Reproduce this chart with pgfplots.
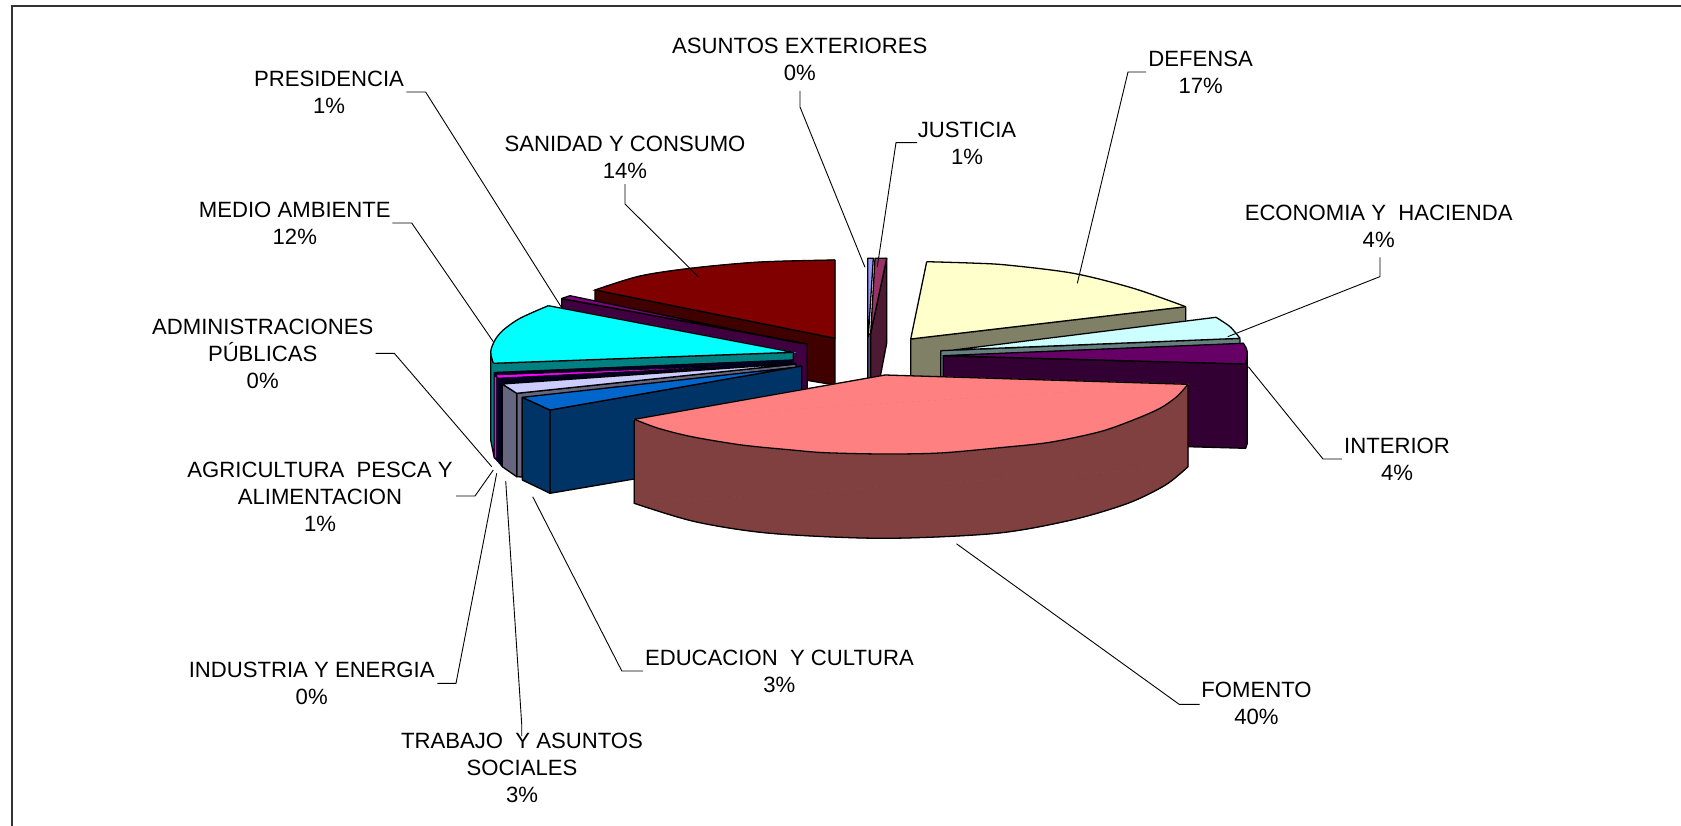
\documentclass[border=0pt]{standalone}
\usepackage{fontspec}
\setmainfont{Liberation Sans}
\usepackage{pgfplots}
\pgfplotsset{compat=1.18}
\definecolor{sanT}{HTML}{800000}\definecolor{sanS}{HTML}{400000}
\definecolor{preT}{HTML}{800080}\definecolor{preS}{HTML}{400040}
\definecolor{medT}{HTML}{00FFFF}\definecolor{medS}{HTML}{008080}
\definecolor{adm}{HTML}{FF00FF}\definecolor{agr}{HTML}{000020}
\definecolor{indT}{HTML}{CCCCFF}\definecolor{indS}{HTML}{666680}
\definecolor{eduT}{HTML}{0066CC}\definecolor{eduS}{HTML}{003366}
\definecolor{fomT}{HTML}{FF8080}\definecolor{fomS}{HTML}{804040}
\definecolor{defT}{HTML}{FFFFCC}\definecolor{defS}{HTML}{808066}
\definecolor{ecoT}{HTML}{CCFFFF}\definecolor{ecoS}{HTML}{668080}
\definecolor{intT}{HTML}{660066}\definecolor{intS}{HTML}{330033}
\definecolor{asuT}{HTML}{9999FF}\definecolor{asuS}{HTML}{4D4D80}
\definecolor{jusT}{HTML}{993366}\definecolor{jusS}{HTML}{4D1A33}
\tikzset{
  slice/.style={draw=black, line width=1.3pt, line join=round, mark=none},
  leader/.style={draw=black, line width=0.9pt, mark=none},
  lab/.style={align=center, font=\fontsize{22.2}{27.1}\selectfont, text=black, inner sep=0pt},
}
% a face with one curved edge: colour, straight polygon, curved edge, straight edges
\newcommand{\face}[4]{%
  \addplot[draw=#1, line width=0.7pt, fill=#1, mark=none] coordinates {#2} -- cycle;
  \addplot[draw=#1, line width=0.7pt, fill=#1, smooth, mark=none] coordinates {#3} -- cycle;
  \addplot[slice, smooth] coordinates {#3};
  \addplot[slice] coordinates {#4};
}
\begin{document}
\begin{tikzpicture}
\path[use as bounding box] (0,0) rectangle (1681bp,826bp);
\begin{axis}[
  at={(0,0)}, anchor=south west,
  width=1681bp, height=826bp, scale only axis,
  xmin=0, xmax=1681, ymin=0, ymax=826, y dir=reverse,
  hide axis, clip=true,
]
% frame (left and top only)
\addplot[draw=black!80, line width=1.5pt, mark=none] coordinates {(12,826) (12,6) (1681,6)};

% Asuntos exteriores
\addplot[slice, fill=asuS] coordinates {(867.7,336) (870.7,333) (870.7,380) (867.7,380)} -- cycle;
\addplot[slice, fill=asuT] coordinates {(867.7,258.3) (873.3,258.3) (868.3,336.7) (867.7,336.7)} -- cycle;
% Justicia
\addplot[slice, fill=jusS] coordinates {(886.7,258.3) (870.7,333) (870.7,380) (880,378) (886.7,343)} -- cycle;
\addplot[slice, fill=jusT] coordinates {(875,258.3) (886.7,258.3) (870.7,333)} -- cycle;
% Sanidad
\addplot[slice, fill=sanS] coordinates {(595,290) (835,338.3) (835,385) (595,345)} -- cycle;
\face{sanT}{(595,290) (835,260) (835,338.3)}{(595,290) (640,276) (693,268) (760,262) (835,260)}{(835,260) (835,338.3) (595,290)}
% Presidencia
\addplot[slice, fill=preS] coordinates {(561.7,298.8) (807.3,344) (807.3,392) (561.7,345)} -- cycle;
\addplot[slice, fill=preT] coordinates {(561.7,298.5) (570,295.7) (793,342) (807.3,344)} -- cycle;
% Defensa
\addplot[slice, fill=defS] coordinates {(910.7,339) (1185.7,306.7) (1185.7,322) (1185.7,380) (910.7,380)} -- cycle;
\face{defT}{(910.7,339) (926.7,261.7) (1185.7,306.7)}{(926.7,261.7) (970,263) (1006.7,265) (1073.3,273.3) (1133.3,288.3) (1185.7,306.7)}{(1185.7,306.7) (910.7,339) (926.7,261.7)}
% Economia
\addplot[slice, fill=ecoS] coordinates {(940.7,350.7) (1240,338.3) (1240,343.3) (1240,380) (940.7,380)} -- cycle;
\face{ecoT}{(953.3,350) (1216,317.3) (1240,338.3)}{(1216,317.3) (1230,326.7) (1240,338.3)}{(1240,338.3) (953.3,350) (1216,317.3)}
% Interior
\addplot[slice, fill=intS] coordinates {(943.3,356) (1245.7,364) (1247.3,355) (1247.3,443.3) (1245.7,448.3) (1188,446.7) (943.3,420)} -- cycle;
\face{intT}{(943.3,355.7) (1243.3,343.3) (1245.7,364)}{(1243.3,343.3) (1246.5,349) (1247.3,355) (1245.7,364)}{(1245.7,364) (943.3,355.7) (1243.3,343.3)}
% Medio ambiente
\addplot[slice, fill=medS] coordinates {(490.7,351.7) (493.3,363.3) (793.3,352.3) (793.3,360) (494.3,372.5) (494.3,458) (490.7,440)} -- cycle;
\face{medT}{(793.3,352.3) (548.3,305.7) (493.3,363.3)}{(548.3,305.7) (520,318.3) (503.3,330) (495,340) (490.7,351.7) (493.3,363.3)}{(493.3,363.3) (793.3,352.3) (548.3,305.7)}
% Agricultura (dark) and Administraciones (magenta)
\addplot[draw=agr, fill=agr, mark=none] coordinates {(494.3,372.5) (793.3,360) (795,366) (502.3,384) (502.3,467) (494.3,458)} -- cycle;
\addplot[draw=black, line width=0.6pt, fill=adm, mark=none] coordinates {(496,375) (498,378) (700,368) (720,366.5)} -- cycle;
\addplot[draw=black, line width=0.6pt, fill=adm, mark=none] coordinates {(494.3,375) (496.7,378) (496.7,459) (494.3,457)} -- cycle;
% Industria
\addplot[slice, fill=indS] coordinates {(516.7,393.3) (796,364) (796,367.5) (522.3,398) (522.3,477) (516.7,476.7)} -- cycle;
\addplot[slice, fill=indS] coordinates {(502.3,384) (516.7,393.3) (516.7,476.7) (502.3,466.7)} -- cycle;
\addplot[slice, fill=indT] coordinates {(502.3,384) (516.7,393.3) (796,364) (760,366)} -- cycle;
% Educacion
\addplot[slice, fill=eduS] coordinates {(550,410) (801.7,366) (801.7,390) (640,478) (550,493.3)} -- cycle;
\addplot[slice, fill=eduS] coordinates {(522.3,397.3) (550,410) (550,493.3) (522.3,480)} -- cycle;
\addplot[slice, fill=eduT] coordinates {(522.3,397.3) (550,410) (791.7,367.7)} -- cycle;
% Fomento
\face{fomS}{(634.3,419.3) (1188,384) (1188,466.7) (634.3,503.3)}{(1188,466.7) (1165.5,485) (1127.9,503.3) (1071.5,520) (996.2,533.3) (883.4,538.3) (770.5,533.3) (695.2,521.7) (634.3,503.3)}{(634.3,503.3) (634.3,419.3) (1188,384) (1188,466.7)}
\face{fomT}{(634.3,419.3) (885,375) (1188,384.3)}{(1188,384.3) (1176.7,396.7) (1160,408.3) (1133.3,420) (1100,431.7) (1050,442.3) (1000,447.7) (940,453) (883,454) (825,452.7) (791.7,450) (741.7,445) (691.7,436.7) (658.3,428.3) (634.3,419.3)}{(634.3,419.3) (885,375) (1188,384.3)}

% leader lines
\addplot[leader] coordinates {(800,91) (800,107) (865,267.3)};
\addplot[leader] coordinates {(917,142.6) (896,142.6) (877.3,266.7)};
\addplot[leader] coordinates {(1146,72) (1128,72) (1077.3,283.3)};
\addplot[leader] coordinates {(1380,257.3) (1380,276.6) (1227.7,336.7)};
\addplot[leader] coordinates {(1342,459) (1323,459) (1248.3,366.7)};
\addplot[leader] coordinates {(1199.7,704.4) (1179.3,704.4) (956.5,543.8)};
\addplot[leader] coordinates {(643,671) (621.8,671) (532.7,496.7)};
\addplot[leader] coordinates {(521.7,736) (521.7,724) (505.7,481)};
\addplot[leader] coordinates {(437.3,683.3) (456,683.3) (496.7,473.3)};
\addplot[leader] coordinates {(456,496) (475,496) (493.3,470)};
\addplot[leader] coordinates {(375.7,353.3) (394.3,353.3) (491.7,466.7)};
\addplot[leader] coordinates {(392.4,223) (411.7,223) (493.3,341.7)};
\addplot[leader] coordinates {(406.3,92) (425.6,92) (561,306.7)};
\addplot[leader] coordinates {(625,184) (625,204) (698.3,276.7)};

% labels
\node[lab] at (axis cs:799.8,59) {ASUNTOS EXTERIORES\\0\%};
\node[lab] at (axis cs:967,143.2) {JUSTICIA\\1\%};
\node[lab] at (axis cs:1200.7,72.8) {DEFENSA\\17\%};
\node[lab] at (axis cs:1378.7,226.4) {ECONOMIA Y\ \ HACIENDA\\4\%};
\node[lab] at (axis cs:1397,459) {INTERIOR\\4\%};
\node[lab] at (axis cs:1256.5,703.3) {FOMENTO\\40\%};
\node[lab] at (axis cs:779.4,671) {EDUCACION\ \ Y CULTURA\\3\%};
\node[lab] at (axis cs:522,767.6) {TRABAJO\ \ Y ASUNTOS\\SOCIALES\\3\%};
\node[lab] at (axis cs:311.7,683.3) {INDUSTRIA Y ENERGIA\\0\%};
\node[lab] at (axis cs:320,496.5) {AGRICULTURA\ \ PESCA Y\\ALIMENTACION\\1\%};
\node[lab] at (axis cs:262.7,353.5) {ADMINISTRACIONES\\PÚBLICAS\\0\%};
\node[lab] at (axis cs:294.8,223) {MEDIO AMBIENTE\\12\%};
\node[lab] at (axis cs:625,157) {SANIDAD Y CONSUMO\\14\%};
\node[lab] at (axis cs:329,92.5) {PRESIDENCIA\\1\%};
\end{axis}
\end{tikzpicture}
\end{document}
